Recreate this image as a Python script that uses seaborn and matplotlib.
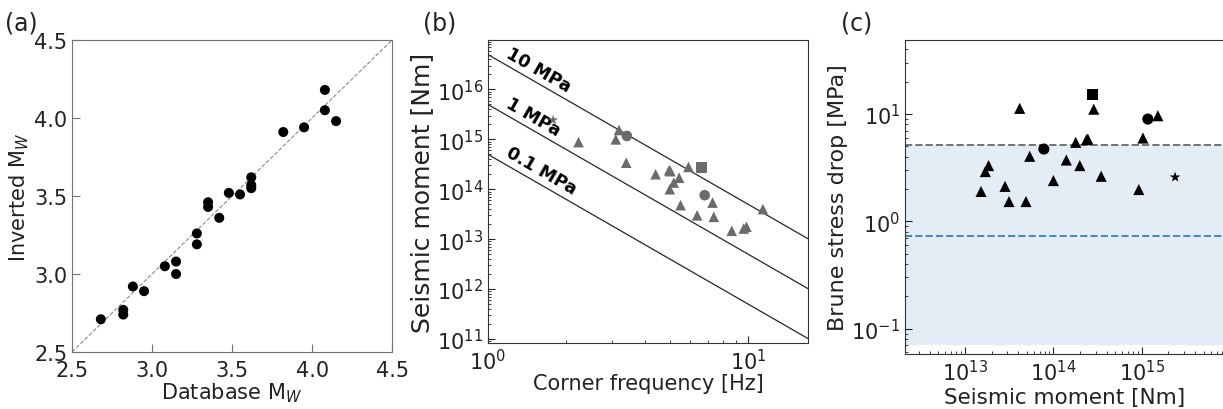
import numpy as np
import pandas as pd
import matplotlib
matplotlib.use("Agg")
import matplotlib.pyplot as plt
import seaborn as sns

# ---------------------------------------------------------------
# (a) database vs inverted magnitude
# ---------------------------------------------------------------
mw_database = [2.68, 2.82, 2.82, 2.88, 2.95, 3.08, 3.15, 3.15, 3.28, 3.28,
               3.35, 3.35, 3.42, 3.48, 3.55, 3.62, 3.62, 3.62, 3.82, 3.95,
               4.08, 4.08, 4.15]
mw_inverted = [2.71, 2.77, 2.74, 2.92, 2.89, 3.05, 3.08, 3.00, 3.26, 3.19,
               3.46, 3.43, 3.36, 3.52, 3.51, 3.62, 3.57, 3.55, 3.91, 3.94,
               4.18, 4.05, 3.98]

# ---------------------------------------------------------------
# (b) corner frequency vs seismic moment
# ---------------------------------------------------------------
fc_hz = [1.78, 2.23, 3.19, 3.10, 3.42, 3.40, 4.41, 4.97, 5.03, 5.43,
         5.18, 5.00, 5.90, 6.62, 6.81, 7.30, 5.50, 6.37, 7.38, 8.65,
         9.62, 9.86, 11.4]
m0_b = [2.44e15, 8.8e14, 1.54e15, 1.0e15, 1.17e15, 3.4e14, 2.0e14, 2.4e14,
        2.3e14, 1.7e14, 1.36e14, 1.0e14, 2.8e14, 2.7e14, 7.6e13, 5.4e13,
        4.8e13, 3.0e13, 2.8e13, 1.47e13, 1.63e13, 1.77e13, 4.0e13]
shape_b = ["star", "tri", "tri", "tri", "circle", "tri", "tri", "tri",
           "tri", "tri", "tri", "tri", "tri", "square", "circle", "tri",
           "tri", "tri", "tri", "tri", "tri", "tri", "tri"]

stress_m0_at_1hz = [5e16, 5e15, 5e14]   # Nm at 1 Hz, M0 ~ fc^-3
stress_labels = ["10 MPa", "1 MPa", "0.1 MPa"]

# ---------------------------------------------------------------
# (c) seismic moment vs Brune stress drop
# ---------------------------------------------------------------
m0_c = [1.52e13, 1.70e13, 1.85e13, 2.84e13, 3.15e13, 4.16e13, 4.90e13,
        5.40e13, 7.80e13, 1.0e14, 1.40e14, 1.79e14, 1.99e14, 2.37e14,
        2.45e14, 2.79e14, 2.86e14, 3.47e14, 9.25e14, 1.03e15, 1.17e15,
        1.52e15, 2.38e15]
stress_c = [1.90, 2.91, 3.31, 2.12, 1.53, 11.3, 1.53, 4.04, 4.72, 2.40,
            3.73, 5.45, 3.31, 5.77, 5.85, 15.1, 11.1, 2.63, 1.98, 5.98,
            8.98, 9.65, 2.58]
shape_c = ["tri", "tri", "tri", "tri", "tri", "tri", "tri", "tri", "circle",
           "tri", "tri", "tri", "tri", "tri", "tri", "square", "tri", "tri",
           "tri", "tri", "circle", "tri", "star"]

band_low, band_high = 0.07, 5.2
blue_level = 0.73

marker_map = {"tri": "^", "circle": "o", "square": "s", "star": "*"}

# ---------------------------------------------------------------
# Style
# ---------------------------------------------------------------
sns.set_style("ticks")
plt.rcParams.update({
    "font.family": ["DejaVu Sans"],
    "xtick.direction": "in",
    "ytick.direction": "in",
    "font.size": 15,
    "axes.labelsize": 15,
    "xtick.labelsize": 15,
    "ytick.labelsize": 15,
    "axes.labelpad": 2,
    "text.color": "#222222",
    "axes.labelcolor": "#222222",
    "xtick.color": "#222222",
    "ytick.color": "#222222",
    "xtick.major.size": 5,
    "ytick.major.size": 5,
})

fig = plt.figure(figsize=(12.23, 4.10), dpi=100)
ax_a = fig.add_axes([0.0589, 0.139, 0.2617, 0.761])
ax_b = fig.add_axes([0.3990, 0.161, 0.2617, 0.739])
ax_c = fig.add_axes([0.7400, 0.134, 0.2608, 0.766])

# ---------------------------------------------------------------
# (a)
# ---------------------------------------------------------------
df_a = pd.DataFrame({"database": mw_database, "inverted": mw_inverted})
ax_a.plot([2.5, 4.5], [2.5, 4.5], ls="--", color="0.55", lw=0.8, zorder=1)
sns.scatterplot(data=df_a, x="database", y="inverted", ax=ax_a,
                color="black", s=52, edgecolor="none", zorder=3)
ax_a.set_xlim(2.5, 4.5)
ax_a.set_ylim(2.5, 4.5)
ax_a.set_xticks([2.5, 3.0, 3.5, 4.0, 4.5])
ax_a.set_yticks([2.5, 3.0, 3.5, 4.0, 4.5])
ax_a.set_xlabel(r"Database M$_W$", labelpad=0)
ax_a.set_ylabel(r"Inverted M$_W$")
for sp in ax_a.spines.values():
    sp.set_color("0.45")
ax_a.tick_params(color="0.45", length=6)
ax_a.tick_params(axis="x", pad=6)

# ---------------------------------------------------------------
# (b)
# ---------------------------------------------------------------
df_b = pd.DataFrame({"fc": fc_hz, "m0": m0_b, "shape": shape_b})
f_line = np.array([1.0, 17.0])
for m1, lab in zip(stress_m0_at_1hz, stress_labels):
    ax_b.plot(f_line, m1 * f_line ** -3.0, color="0.15", lw=0.9, zorder=1)
    ax_b.text(1.14, m1 * 1.14 ** -3.0 * 1.2, lab, rotation=-30,
              rotation_mode="anchor", ha="left", va="bottom",
              fontsize=12.5, fontweight="bold", color="black")
sns.scatterplot(data=df_b, x="fc", y="m0", style="shape", markers=marker_map,
                color="0.42", s=58, edgecolor="none", legend=False,
                ax=ax_b, zorder=3)
ax_b.set_xscale("log")
ax_b.set_yscale("log")
ax_b.set_xlim(1.0, 17.0)
ax_b.set_ylim(8.3e10, 9.8e16)
ax_b.set_xlabel("Corner frequency [Hz]", labelpad=0)
ax_b.set_ylabel("Seismic moment [Nm]", fontsize=18)
for sp in ax_b.spines.values():
    sp.set_color("0.2")

# ---------------------------------------------------------------
# (c)
# ---------------------------------------------------------------
df_c = pd.DataFrame({"m0": m0_c, "stress": stress_c, "shape": shape_c})
ax_c.axhspan(band_low, band_high, color="#e4edf6", lw=0, zorder=0)
ax_c.axhline(band_high, ls="--", color="0.45", lw=1.4, zorder=1)
ax_c.axhline(blue_level, ls="--", color="#3f88c5", lw=1.4, zorder=1)
sns.scatterplot(data=df_c, x="m0", y="stress", style="shape",
                markers=marker_map, color="black", s=64, edgecolor="none",
                legend=False, ax=ax_c, zorder=3)
ax_c.set_xscale("log")
ax_c.set_yscale("log")
ax_c.set_xlim(2.1e12, 8.5e15)
ax_c.set_ylim(0.058, 49)
ax_c.set_xlabel("Seismic moment [Nm]", fontsize=15.5)
ax_c.set_ylabel("Brune stress drop [MPa]", fontsize=16)
for sp in ax_c.spines.values():
    sp.set_color("0.2")

# panel letters
fig.text(0.004, 0.925, "(a)", fontsize=17)
fig.text(0.346, 0.925, "(b)", fontsize=17)
fig.text(0.688, 0.925, "(c)", fontsize=17)

fig.savefig("out.png", dpi=100)
